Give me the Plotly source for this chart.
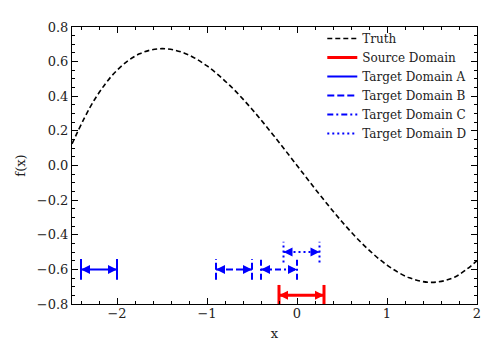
import plotly.graph_objects as go

# truth curve
x_truth = [-2.5, -2.25, -2.0, -1.75, -1.5, -1.25, -1.0, -0.75, -0.5, -0.25,
           0.0, 0.25, 0.5, 0.75, 1.0, 1.25, 1.5, 1.75, 2.0]
y_truth = [0.125, 0.38, 0.55, 0.645, 0.675, 0.649, 0.575, 0.464, 0.325, 0.167,
           0.0, -0.167, -0.325, -0.464, -0.575, -0.649, -0.675, -0.645, -0.55]

# domain intervals
domain_names = ["Source Domain", "Target Domain A", "Target Domain B",
                "Target Domain C", "Target Domain D"]
domain_lo = [-0.2, -2.4, -0.9, -0.4, -0.15]
domain_hi = [0.3, -2.0, -0.5, 0.0, 0.25]
domain_level = [-0.75, -0.6, -0.6, -0.6, -0.5]

colors = ["#ff0000", "#0000ff", "#0000ff", "#0000ff", "#0000ff"]
widths = [3, 2, 2, 2, 2]
dashes = ["solid", "solid", "7px,3px", "6px,3px,2px,3px", "2px,3px"]
cap = 0.06

fig = go.Figure()
fig.add_trace(go.Scatter(x=x_truth, y=y_truth, mode="lines", name="Truth",
                         line=dict(color="black", width=1.6, dash="5px,3px", shape="spline")))

for i in range(len(domain_names)):
    lo = domain_lo[i]
    hi = domain_hi[i]
    lv = domain_level[i]
    fig.add_trace(go.Scatter(
        x=[lo, lo, None, lo, hi, None, hi, hi],
        y=[lv - cap, lv + cap, None, lv, lv, None, lv - cap, lv + cap],
        mode="lines", name=domain_names[i],
        line=dict(color=colors[i], width=widths[i], dash=dashes[i])))
    fig.add_trace(go.Scatter(
        x=[lo, hi], y=[lv, lv], mode="markers", showlegend=False, hoverinfo="skip",
        marker=dict(symbol=["arrow-left", "arrow-right"], size=9,
                    color=colors[i], line=dict(width=0))))

axis_common = dict(showline=True, linecolor="black", linewidth=1, mirror="ticks",
                   ticks="inside", ticklen=6, tickcolor="black", showgrid=False,
                   zeroline=False, tickfont=dict(size=13, color="#222"))

fig.update_xaxes(range=[-2.5, 2], dtick=1, ticklabelstandoff=-3,
                 title=dict(text="x", standoff=9, font=dict(size=13)),
                 minor=dict(dtick=0.2, ticks="inside", ticklen=3, tickcolor="black"),
                 **axis_common)
fig.update_yaxes(range=[-0.8, 0.8], dtick=0.2, tickformat=".1f",
                 title=dict(text="f(x)", standoff=8, font=dict(size=13)),
                 minor=dict(dtick=0.05, ticks="inside", ticklen=3, tickcolor="black"),
                 **axis_common)

# page body has an 8px margin, so the figure is shrunk to keep the plot box in place
fig.update_layout(
    width=490, height=348,
    margin=dict(l=63, r=21, t=13, b=52),
    paper_bgcolor="white", plot_bgcolor="white",
    font=dict(family="DejaVu Serif", color="#222"),
    legend=dict(x=0.618, y=1.011, xanchor="left", yanchor="top", tracegroupgap=0,
                bgcolor="rgba(0,0,0,0)", font=dict(size=12), itemwidth=30),
)

fig.write_html("out.html")
